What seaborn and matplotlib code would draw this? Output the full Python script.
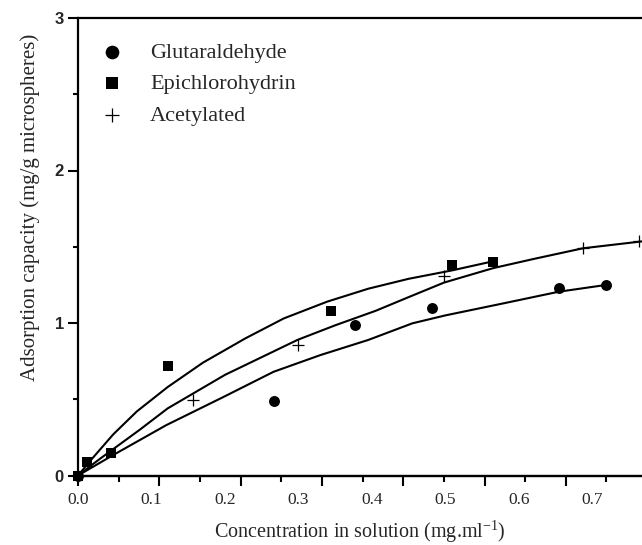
import numpy as np
import pandas as pd
import matplotlib
matplotlib.use("Agg")
import matplotlib.pyplot as plt
import seaborn as sns

# ---- data ----
glut_x = [0.0, 0.266, 0.377, 0.482, 0.654, 0.719]
glut_y = [0.0, 0.49, 0.99, 1.10, 1.23, 1.25]
epi_x = [0.0, 0.012, 0.045, 0.122, 0.344, 0.509, 0.565]
epi_y = [0.0, 0.09, 0.146, 0.72, 1.08, 1.38, 1.40]
acet_x = [0.0, 0.156, 0.299, 0.498, 0.687, 0.763]
acet_y = [0.0, 0.495, 0.856, 1.31, 1.49, 1.54]

# fitted curves, points
epi_fit_x = [0.0, 0.02, 0.048, 0.08, 0.122, 0.17, 0.228, 0.28, 0.339, 0.395, 0.45, 0.509, 0.565]
epi_fit_y = [0.0, 0.115, 0.27, 0.42, 0.58, 0.74, 0.90, 1.03, 1.14, 1.225, 1.29, 1.345, 1.405]
acet_fit_x = [0.0, 0.03, 0.084, 0.122, 0.2, 0.299, 0.35, 0.405, 0.45, 0.498, 0.565, 0.62, 0.687, 0.767]
acet_fit_y = [0.0, 0.11, 0.30, 0.44, 0.66, 0.89, 0.985, 1.08, 1.17, 1.265, 1.36, 1.42, 1.49, 1.535]
glut_fit_x = [0.0, 0.05, 0.12, 0.2, 0.266, 0.33, 0.395, 0.455, 0.5, 0.58, 0.654, 0.719]
glut_fit_y = [0.0, 0.14, 0.33, 0.52, 0.68, 0.79, 0.889, 0.998, 1.05, 1.13, 1.205, 1.25]

series_names = ["Glutaraldehyde", "Epichlorohydrin", "Acetylated"]
x_tick_values = [0.0, 0.1, 0.2, 0.3, 0.4, 0.5, 0.6, 0.7]
x_tick_labels = ["0.0", "0.1", "0.2", "0.3", "0.4", "0.5", "0.6", "0.7"]
y_tick_values = [0, 1, 2, 3]
y_tick_labels = ["0", "1", "2", "3"]

# ---- figure ----
sns.set_theme(style="white")
plt.rcParams["font.family"] = ["Liberation Serif", "DejaVu Serif"]
plt.rcParams["mathtext.fontset"] = "custom"
plt.rcParams["mathtext.rm"] = "Liberation Serif"
plt.rcParams["mathtext.it"] = "Liberation Serif:italic"

W, H = 642, 545
fig = plt.figure(figsize=(W / 100, H / 100), dpi=100)
ax_left, ax_right, ax_top, ax_bottom = 78, 642, 18, 475.5
ax = fig.add_axes([ax_left / W, 1 - ax_bottom / H, (ax_right - ax_left) / W, (ax_bottom - ax_top) / H])

# curves
for fx, fy in [(epi_fit_x, epi_fit_y), (acet_fit_x, acet_fit_y), (glut_fit_x, glut_fit_y)]:
    sns.lineplot(x=fx, y=fy, ax=ax, color="black", linewidth=1.5, sort=False,
                 legend=False, estimator=None)

# markers
sns.scatterplot(x=glut_x, y=glut_y, ax=ax, marker="o", s=62, color="black",
                edgecolor="black", linewidth=0, label=series_names[0], clip_on=False, zorder=5)
sns.scatterplot(x=epi_x, y=epi_y, ax=ax, marker="s", s=52, color="black",
                edgecolor="black", linewidth=0, label=series_names[1], clip_on=False, zorder=6)
sns.scatterplot(x=acet_x, y=acet_y, ax=ax, marker="+", s=70, color="black",
                linewidth=0.9, label=series_names[2], clip_on=False, zorder=5)

ax.set_xlim(0, (ax_right - ax_left) / 735)
ax.set_ylim(0, 3)

# spines
for s in ["left", "bottom", "top"]:
    ax.spines[s].set_visible(True)
    ax.spines[s].set_linewidth(1.6)
    ax.spines[s].set_color("black")
ax.spines["right"].set_visible(False)

# y ticks
ax.set_yticks(y_tick_values)
ax.set_yticklabels(y_tick_labels, fontfamily="Liberation Sans", fontweight="bold", fontsize=12)
ax.set_yticks([0.5, 1.5, 2.5], minor=True)
ax.tick_params(axis="y", which="major", left=True, direction="out", length=7.2, width=1.5, pad=3, color="black")
ax.tick_params(axis="y", which="minor", left=True, direction="out", length=3.5, width=1.5, color="black")

# x tick labels (no marks)
ax.set_xticks(x_tick_values)
ax.set_xticklabels(x_tick_labels, fontsize=12.5)
ax.tick_params(axis="x", which="major", bottom=True, length=0, pad=12)

# x tick marks (as drawn in the reference, independent of the labels)
step = 81.3 / 735
long_ticks = [i * step for i in range(7)]
short_ticks = [(i + 0.5) * step for i in range(7)]
sec = ax.secondary_xaxis("bottom")
sec.set_xticks(long_ticks)
sec.set_xticklabels([])
sec.set_xticks(short_ticks, minor=True)
sec.tick_params(which="major", direction="out", length=7.2, width=1.5, color="black")
sec.tick_params(which="minor", direction="out", length=4.0, width=1.5, color="black")
sec.spines["bottom"].set_linewidth(1.6)

# axis labels
ax.set_xlabel(r"Concentration in solution (mg.ml$^{-1}$)", fontsize=14.5)
ax.xaxis.set_label_coords(0.5, -(532 - ax_bottom) / (ax_bottom - ax_top))
ax.xaxis.label.set_va("center")
ax.set_ylabel("Adsorption capacity (mg/g microspheres)", fontsize=15)
ax.yaxis.set_label_coords(-(ax_left - 30) / (ax_right - ax_left), (ax_bottom - 207) / (ax_bottom - ax_top))
ax.yaxis.label.set_va("center")

# legend
leg = ax.legend(loc="upper left", bbox_to_anchor=(101 / W, 1 - 42 / H), bbox_transform=fig.transFigure,
                frameon=False, borderpad=0, borderaxespad=0, handlelength=1.0,
                handletextpad=1.2, labelspacing=0.5, markerscale=1.25,
                prop={"family": "Liberation Serif", "size": 16})

fig.savefig("out.png", dpi=100)
